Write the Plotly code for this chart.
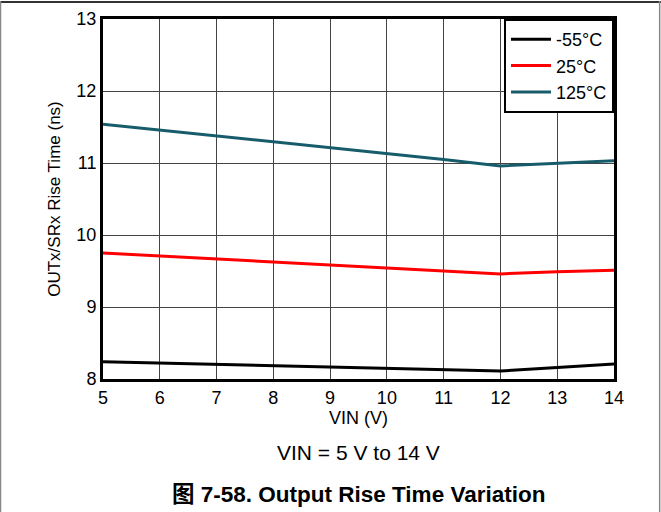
import plotly.graph_objects as go

# VIN (V)
vin = [5, 6, 7, 8, 9, 10, 11, 12, 13, 14]

# rise time (ns) per temperature
rise_m55 = [8.24, 8.22, 8.20, 8.19, 8.17, 8.15, 8.13, 8.11, 8.16, 8.21]
rise_25 = [9.75, 9.71, 9.67, 9.63, 9.59, 9.55, 9.51, 9.46, 9.49, 9.51]
rise_125 = [11.54, 11.46, 11.38, 11.29, 11.21, 11.13, 11.05, 10.96, 11.00, 11.03]

series = [
	('-55°C', rise_m55, '#000000'),
	('25°C', rise_25, '#FF0000'),
	('125°C', rise_125, '#175C6B'),
]

FONT = 'Liberation Sans, Arial, sans-serif'

fig = go.Figure()
for name, ys, col in series:
	fig.add_trace(go.Scatter(
		x=vin,
		y=ys,
		name=name,
		mode='lines',
		line=dict(color=col, width=3),
	))

fig.update_layout(
	width=661,
	height=512,
	margin=dict(l=103, r=47, t=19, b=133),
	paper_bgcolor='white',
	plot_bgcolor='white',
	font=dict(family=FONT, size=18, color='black'),
	showlegend=True,
	legend=dict(
		x=1, y=1, xanchor='right', yanchor='top',
		bgcolor='white',
		bordercolor='black',
		borderwidth=2,
		font=dict(size=18),
		tracegroupgap=0,
		itemwidth=40,
	),
)

fig.update_xaxes(
	range=[5, 14],
	dtick=1,
	showgrid=True,
	gridcolor='#444444',
	gridwidth=1,
	showline=True,
	linecolor='black',
	linewidth=3,
	mirror=True,
	ticks='',
	zeroline=False,
	automargin=False,
	tickfont=dict(size=18),
	title=dict(text='VIN (V)', font=dict(size=18), standoff=0),
)
fig.update_yaxes(
	range=[8, 13],
	dtick=1,
	showgrid=True,
	gridcolor='#444444',
	gridwidth=1,
	showline=True,
	linecolor='black',
	linewidth=3,
	mirror=True,
	ticks='',
	zeroline=False,
	automargin=False,
	tickfont=dict(size=18),
	title=dict(text='OUTx/SRx Rise Time (ns)', font=dict(size=17), standoff=12),
)

fig.add_annotation(
	text='VIN = 5 V to 14 V',
	xref='paper', yref='paper',
	x=0.5, y=-0.241,
	showarrow=False,
	font=dict(size=21),
)
fig.add_annotation(
	text='<b>图 7-58. Output Rise Time Variation</b>',
	xref='paper', yref='paper',
	x=0.5, y=-0.361,
	showarrow=False,
	font=dict(size=22.5, family='Liberation Sans, Noto Sans CJK SC, sans-serif'),
)

# page frame
fig.add_shape(type='line', xref='paper', yref='paper',
	x0=-0.21, x1=1.1, y0=1.047, y1=1.047, line=dict(color='#333333', width=2))
fig.add_shape(type='line', xref='paper', yref='paper',
	x0=-0.2006, x1=-0.2006, y0=1.05, y1=-0.38, line=dict(color='#888888', width=1.5))
fig.add_shape(type='line', xref='paper', yref='paper',
	x0=1.0894, x1=1.0894, y0=1.05, y1=-0.38, line=dict(color='#888888', width=1.5))

fig.write_html(
	'out.html',
	config={'displayModeBar': False},
	post_script="document.body.style.margin='0';",
)
